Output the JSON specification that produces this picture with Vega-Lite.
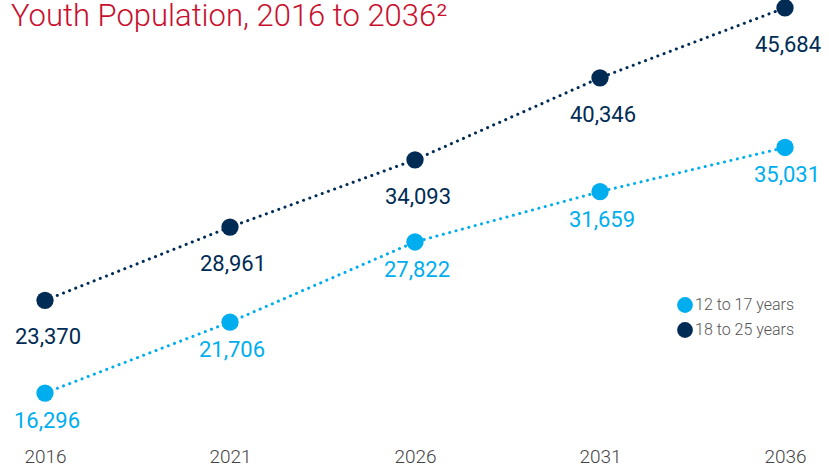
{
  "$schema": "https://vega.github.io/schema/vega-lite/v6.json",
  "width": 740,
  "height": 430,
  "autosize": {"type": "none"},
  "padding": {"left": 45, "top": 0, "right": 44, "bottom": 38},
  "background": "white",
  "title": {
    "text": "Youth Population, 2016 to 2036²",
    "anchor": "start",
    "frame": "group",
    "color": "#c8102e",
    "font": "Roboto",
    "fontWeight": 300,
    "fontSize": 31,
    "offset": -34,
    "dx": -34
  },
  "config": {"view": {"stroke": null}},
  "data": {
    "values": [
      {"year": "2016", "group": "12 to 17 years", "value": 16296},
      {"year": "2021", "group": "12 to 17 years", "value": 21706},
      {"year": "2026", "group": "12 to 17 years", "value": 27822},
      {"year": "2031", "group": "12 to 17 years", "value": 31659},
      {"year": "2036", "group": "12 to 17 years", "value": 35031},
      {"year": "2016", "group": "18 to 25 years", "value": 23370},
      {"year": "2021", "group": "18 to 25 years", "value": 28961},
      {"year": "2026", "group": "18 to 25 years", "value": 34093},
      {"year": "2031", "group": "18 to 25 years", "value": 40346},
      {"year": "2036", "group": "18 to 25 years", "value": 45684}
    ]
  },
  "encoding": {
    "x": {
      "field": "year",
      "type": "ordinal",
      "scale": {"type": "point", "padding": 0},
      "axis": {
        "title": null,
        "domain": false,
        "ticks": false,
        "labelAngle": 0,
        "labelFont": "Roboto",
        "labelFontWeight": 300,
        "labelFontSize": 19,
        "labelColor": "#444",
        "labelPadding": 17
      }
    },
    "y": {
      "field": "value",
      "type": "quantitative",
      "scale": {"domain": [13476, 46285], "zero": false, "nice": false},
      "axis": null
    },
    "color": {
      "field": "group",
      "type": "nominal",
      "scale": {"domain": ["12 to 17 years", "18 to 25 years"], "range": ["#00aeef", "#002b54"]},
      "legend": {
        "title": null,
        "orient": "none",
        "legendX": 632,
        "legendY": 297,
        "symbolType": "circle",
        "symbolSize": 250,
        "symbolOpacity": 1,
        "symbolStrokeWidth": 0,
        "symbolDash": [],
        "labelFont": "Roboto",
        "labelFontWeight": 300,
        "labelFontSize": 16,
        "labelColor": "#555",
        "labelOffset": 2,
        "rowPadding": 9
      }
    }
  },
  "layer": [
    {
      "mark": {"type": "line", "strokeWidth": 3, "strokeDash": [0.1, 6.5], "strokeCap": "round"}
    },
    {
      "mark": {"type": "point", "filled": true, "size": 300, "opacity": 1, "shape": "circle"}
    },
    {
      "transform": [{"filter": "datum.group === '18 to 25 years'"}],
      "mark": {"type": "text", "dy": 37, "dx": 3, "font": "Roboto", "fontSize": 22, "baseline": "middle"},
      "encoding": {
        "text": {"field": "value", "type": "quantitative", "format": ","}
      }
    },
    {
      "transform": [{"filter": "datum.group === '12 to 17 years'"}],
      "mark": {"type": "text", "dy": 28, "dx": 2, "font": "Roboto", "fontSize": 22, "baseline": "middle"},
      "encoding": {
        "text": {"field": "value", "type": "quantitative", "format": ","}
      }
    }
  ]
}
